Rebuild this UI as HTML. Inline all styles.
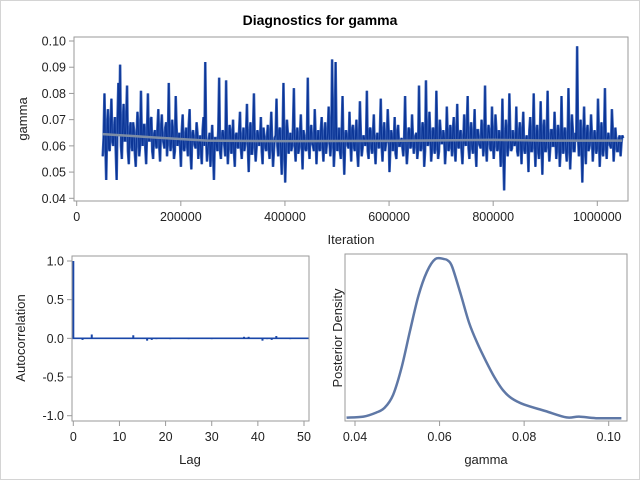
<!DOCTYPE html>
<html><head><meta charset="utf-8"><style>
html,body{margin:0;padding:0;background:#fff}
svg{display:block;font-family:"Liberation Sans",Arial,sans-serif}
</style></head><body>
<svg id="c" width="640" height="480" viewBox="0 0 640 480">
<rect x="0.5" y="0.5" width="639" height="479" fill="#fff" stroke="#d4d4d4"/>
<text x="320" y="25" text-anchor="middle" font-size="14" font-weight="bold" fill="#000">Diagnostics for gamma</text>
<g id="trace"></g>
<g id="acf"></g>
<g id="dens"></g>
</svg>
<script>
const NS="http://www.w3.org/2000/svg";
// ---- trace data (samples A at even positions, samples B at odd positions) ----
const iterStart=50000;
const iterStep=1669;
const traceValues=[
0.056,0.080,0.047,0.074,0.058,0.078,0.060,0.071,0.047,0.084,0.091,0.055,0.076,0.062,0.083,0.053,0.069,0.058,0.066,0.052,
0.073,0.056,0.081,0.060,0.068,0.053,0.080,0.062,0.071,0.055,0.066,0.059,0.074,0.054,0.072,0.061,0.067,0.056,0.084,0.058,
0.070,0.055,0.079,0.060,0.065,0.052,0.072,0.058,0.067,0.056,0.074,0.051,0.066,0.060,0.069,0.055,0.064,0.053,0.071,0.092,
0.054,0.062,0.052,0.068,0.047,0.063,0.058,0.086,0.055,0.066,0.060,0.085,0.053,0.068,0.057,0.070,0.052,0.065,0.059,0.073,
0.055,0.067,0.061,0.076,0.050,0.069,0.057,0.080,0.054,0.066,0.060,0.071,0.053,0.064,0.058,0.068,0.055,0.073,0.052,0.063,
0.078,0.056,0.067,0.049,0.084,0.046,0.070,0.057,0.065,0.060,0.082,0.054,0.067,0.059,0.072,0.051,0.064,0.058,0.086,0.055,
0.068,0.060,0.074,0.053,0.066,0.058,0.071,0.054,0.069,0.061,0.075,0.056,0.093,0.052,0.092,0.058,0.067,0.055,0.079,0.049,
0.066,0.060,0.073,0.054,0.068,0.058,0.070,0.052,0.077,0.056,0.064,0.060,0.081,0.055,0.067,0.057,0.072,0.053,0.065,0.059,
0.078,0.054,0.069,0.061,0.074,0.050,0.066,0.058,0.071,0.055,0.068,0.060,0.063,0.056,0.079,0.053,0.067,0.059,0.072,0.057,
0.064,0.055,0.083,0.058,0.069,0.052,0.085,0.060,0.073,0.054,0.067,0.057,0.081,0.055,0.070,0.061,0.066,0.053,0.075,0.058,
0.068,0.056,0.071,0.054,0.076,0.059,0.066,0.053,0.072,0.060,0.079,0.055,0.069,0.057,0.074,0.052,0.066,0.060,0.070,0.056,
0.083,0.054,0.068,0.059,0.075,0.055,0.072,0.058,0.066,0.052,0.078,0.043,0.070,0.056,0.080,0.058,0.066,0.060,0.075,0.056,
0.069,0.053,0.073,0.057,0.064,0.050,0.071,0.058,0.080,0.052,0.068,0.055,0.077,0.049,0.070,0.058,0.081,0.054,0.066,0.060,
0.073,0.055,0.068,0.052,0.079,0.057,0.067,0.054,0.082,0.051,0.072,0.058,0.065,0.098,0.056,0.070,0.046,0.075,0.053,0.068,
0.059,0.072,0.054,0.066,0.057,0.078,0.052,0.069,0.056,0.082,0.055,0.065,0.060,0.074,0.054,0.067,0.058,0.063,0.056,0.064];
const traceValuesB=[
0.063,0.061,0.066,0.059,0.068,0.062,0.065,0.058,0.070,0.064,0.060,0.067,0.062,0.071,0.058,0.065,0.061,0.069,0.057,0.064,
0.066,0.060,0.063,0.068,0.059,0.065,0.062,0.070,0.058,0.064,0.061,0.067,0.060,0.066,0.063,0.059,0.069,0.062,0.065,0.061,
0.064,0.058,0.067,0.062,0.060,0.066,0.059,0.063,0.061,0.068,0.057,0.064,0.062,0.059,0.065,0.061,0.058,0.066,0.060,0.063,
0.059,0.065,0.061,0.057,0.063,0.060,0.066,0.058,0.062,0.064,0.056,0.063,0.060,0.065,0.061,0.058,0.064,0.060,0.066,0.059,
0.062,0.058,0.065,0.060,0.063,0.057,0.066,0.061,0.059,0.064,0.062,0.058,0.067,0.060,0.063,0.059,0.065,0.061,0.058,0.064,
0.060,0.066,0.058,0.063,0.061,0.059,0.065,0.062,0.058,0.067,0.060,0.063,0.057,0.064,0.061,0.066,0.059,0.062,0.060,0.065,
0.061,0.058,0.064,0.062,0.059,0.066,0.060,0.063,0.057,0.065,0.061,0.062,0.068,0.059,0.064,0.061,0.058,0.065,0.060,0.062,
0.063,0.059,0.061,0.066,0.060,0.064,0.057,0.062,0.065,0.059,0.063,0.061,0.058,0.066,0.060,0.064,0.059,0.062,0.061,0.065,
0.060,0.064,0.058,0.062,0.066,0.059,0.063,0.061,0.057,0.065,0.060,0.062,0.059,0.064,0.061,0.058,0.066,0.060,0.063,0.061,
0.065,0.059,0.062,0.060,0.067,0.058,0.063,0.061,0.064,0.059,0.066,0.060,0.062,0.058,0.065,0.061,0.063,0.059,0.064,0.060,
0.062,0.066,0.059,0.063,0.060,0.065,0.058,0.062,0.061,0.067,0.059,0.064,0.060,0.063,0.058,0.066,0.061,0.059,0.064,0.062,
0.060,0.063,0.065,0.058,0.062,0.061,0.066,0.059,0.063,0.060,0.057,0.062,0.064,0.060,0.065,0.059,0.062,0.061,0.058,0.064,
0.061,0.065,0.059,0.062,0.060,0.066,0.058,0.063,0.061,0.064,0.059,0.062,0.060,0.065,0.058,0.063,0.061,0.059,0.066,0.060,
0.063,0.060,0.064,0.058,0.062,0.065,0.059,0.061,0.063,0.060,0.066,0.058,0.062,0.064,0.060,0.059,0.063,0.061,0.065,0.058,
0.062,0.064,0.060,0.063,0.059,0.065,0.061,0.058,0.064,0.060,0.063,0.061,0.059,0.066,0.060,0.062,0.058,0.064,0.061,0.063];
const trendIter=[50000,150000,250000,400000,600000,800000,900000,1048000];
const trendVals=[0.0645,0.0632,0.0620,0.0618,0.0619,0.0623,0.0620,0.0620];
const traceXTicks=[0,200000,400000,600000,800000,1000000];
const traceYTicks=["0.04","0.05","0.06","0.07","0.08","0.09","0.10"];
// ---- acf data ----
const acfLags=[0,1,2,3,4,5,6,7,8,9,10,11,12,13,14,15,16,17,18,19,20,21,22,23,24,25,26,27,28,29,30,31,32,33,34,35,36,37,38,39,40,41,42,43,44,45,46,47,48,49,50];
const acfValues=[1.0,0.0,-0.02,0.0,0.05,0.0,0.01,0.01,0.01,0.0,0.0,0.0,0.0,0.04,0.0,0.0,-0.03,-0.02,-0.01,0.0,0.0,-0.01,0.01,0.0,0.0,-0.01,0.0,0.0,0.01,0.0,-0.01,0.0,0.0,0.0,0.0,0.0,0.0,0.02,0.02,0.0,0.0,-0.03,-0.01,-0.02,0.03,0.0,0.0,-0.01,0.01,0.0,0.0];
const acfXTicks=[0,10,20,30,40,50];
const acfYTicks=["-1.0","-0.5","0.0","0.5","1.0"];
// ---- density data ----
const densX=[0.038,0.042,0.045,0.047,0.049,0.051,0.053,0.055,0.057,0.059,0.061,0.062,0.063,0.065,0.067,0.069,0.071,0.073,0.075,0.077,0.080,0.085,0.090,0.093,0.097,0.103];
const densY=[0.5,0.9,2.4,4.2,9.0,19.2,33.0,46.2,55.2,60.0,60.0,59.4,57.0,46.8,36.0,28.2,21.6,15.6,10.8,7.8,5.4,3.0,0.6,0.9,0.3,0.3];
const densXTicks=["0.04","0.06","0.08","0.10"];

function el(tag,attrs,parent){const e=document.createElementNS(NS,tag);for(const k in attrs)e.setAttribute(k,attrs[k]);parent.appendChild(e);return e;}
const FR="#9a9a9a", TK="#9a9a9a";

// ===== Trace plot =====
(function(){
 const g=document.getElementById('trace');
 const L=74,T=37,R=628,B=201;
 const sx=v=>76.7+(v/1000000)*520.6;
 const sy=v=>41+(0.10-v)/0.06*157.3;
 for(const t of traceYTicks){const y=sy(parseFloat(t));
  const tk=el('line',{x1:L-5,x2:L,y1:y,y2:y,stroke:TK},g);
  
  const tx=el('text',{x:L-8,y:y+4.5,'text-anchor':'end','font-size':12.5,fill:'#222'},g);tx.textContent=t;
  }
 for(const t of traceXTicks){const x=sx(t);
  const tk=el('line',{x1:x,x2:x,y1:B,y2:B+5,stroke:TK},g);
  
  const tx=el('text',{x:x,y:B+20,'text-anchor':'middle','font-size':12.5,fill:'#222'},g);tx.textContent=String(t);
  }
 const series=[];
 traceValues.forEach((v,i)=>{series.push(v);if(i<traceValuesB.length)series.push(traceValuesB[i]);});
 let d='';series.forEach((v,i)=>{d+=(i?'L':'M')+sx(iterStart+i*iterStep).toFixed(2)+','+sy(v).toFixed(2);});
 const p2=el('path',{d:d,fill:'none',stroke:'#3a62b8','stroke-width':2.6},g);
 
 const p=el('path',{d:d,fill:'none',stroke:'#0b3596','stroke-width':1.2},g);
 
 let d2='';trendIter.forEach((v,i)=>{d2+=(i?'L':'M')+sx(v).toFixed(2)+','+sy(trendVals[i]).toFixed(2);});
 const tr=el('path',{d:d2,fill:'none',stroke:'#7d8da6','stroke-width':2.5},g);
 
 const f=el('rect',{x:L,y:T,width:R-L,height:B-T,fill:'none',stroke:FR},g);
 
 const yl=el('text',{x:0,y:0,transform:'translate(27,119) rotate(-90)','text-anchor':'middle','font-size':13,fill:'#222'},g);yl.textContent='gamma';
 
 const xl=el('text',{x:351,y:244,'text-anchor':'middle','font-size':13,fill:'#222'},g);xl.textContent='Iteration';
 
})();

// ===== ACF plot =====
(function(){
 const g=document.getElementById('acf');
 const L=72,T=256,R=309,B=421;
 const sx=v=>73.3+v/50*230.7;
 const sy=v=>261+(1-v)/2*154.7;
 for(const t of acfYTicks){const y=sy(parseFloat(t));
  const tk=el('line',{x1:L-5,x2:L,y1:y,y2:y,stroke:TK},g);
  
  const tx=el('text',{x:L-8,y:y+4.5,'text-anchor':'end','font-size':12.5,fill:'#222'},g);tx.textContent=t;
  }
 for(const t of acfXTicks){const x=sx(t);
  const tk=el('line',{x1:x,x2:x,y1:B,y2:B+5,stroke:TK},g);
  
  const tx=el('text',{x:x,y:B+20,'text-anchor':'middle','font-size':12.5,fill:'#222'},g);tx.textContent=String(t);
  }
 const z=el('line',{x1:L,x2:R,y1:sy(0),y2:sy(0),stroke:'#1a47a8','stroke-width':1.6},g);
 
 acfLags.forEach((lag,i)=>{const v=acfValues[i];const y0=sy(0),y1=sy(v);
  const b=el('rect',{x:sx(lag)-1,y:Math.min(y0,y1),width:2,height:Math.max(Math.abs(y1-y0),0.5),fill:'#1a47a8'},g);
  });
 const f=el('rect',{x:L,y:T,width:R-L,height:B-T,fill:'none',stroke:FR},g);
 
 const yl=el('text',{x:0,y:0,transform:'translate(25,338) rotate(-90)','text-anchor':'middle','font-size':13,fill:'#222'},g);yl.textContent='Autocorrelation';
 
 const xl=el('text',{x:190,y:464,'text-anchor':'middle','font-size':13,fill:'#222'},g);xl.textContent='Lag';
 
})();

// ===== Density plot =====
(function(){
 const g=document.getElementById('dens');
 const L=345,T=254,R=627,B=421;
 const sx=v=>355+(v-0.04)/0.06*253.7;
 const sy=v=>419-v/60*160;
 for(const t of densXTicks){const x=sx(parseFloat(t));
  const tk=el('line',{x1:x,x2:x,y1:B,y2:B+5,stroke:TK},g);
  
  const tx=el('text',{x:x,y:B+20,'text-anchor':'middle','font-size':12.5,fill:'#222'},g);tx.textContent=t;
  }
 const pts=densX.map((v,i)=>[sx(v),sy(densY[i])]);
 let d='M'+pts[0][0]+','+pts[0][1];
 for(let i=0;i<pts.length-1;i++){const p0=pts[Math.max(0,i-1)],p1=pts[i],p2=pts[i+1],p3=pts[Math.min(pts.length-1,i+2)];
  const c1=[p1[0]+(p2[0]-p0[0])/6,p1[1]+(p2[1]-p0[1])/6],c2=[p2[0]-(p3[0]-p1[0])/6,p2[1]-(p3[1]-p1[1])/6];
  d+='C'+c1[0].toFixed(2)+','+c1[1].toFixed(2)+' '+c2[0].toFixed(2)+','+c2[1].toFixed(2)+' '+p2[0].toFixed(2)+','+p2[1].toFixed(2);}
 const c=el('path',{d:d,fill:'none',stroke:'#5f78a6','stroke-width':2.5},g);
 
 const f=el('rect',{x:L,y:T,width:R-L,height:B-T,fill:'none',stroke:FR},g);
 
 const yl=el('text',{x:0,y:0,transform:'translate(342,338) rotate(-90)','text-anchor':'middle','font-size':13,fill:'#222'},g);yl.textContent='Posterior Density';
 
 const xl=el('text',{x:486,y:464,'text-anchor':'middle','font-size':13,fill:'#222'},g);xl.textContent='gamma';
 
})();
</script>
</body></html>
